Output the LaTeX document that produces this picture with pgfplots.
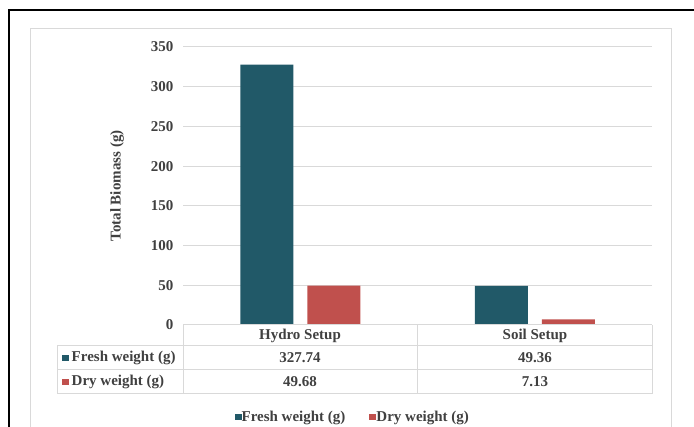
\documentclass[border=0pt]{standalone}
\usepackage{pgfplots}
\pgfplotsset{compat=1.18}
\usepackage{fontspec}
\setmainfont{Liberation Serif}

\definecolor{freshc}{HTML}{215968}
\definecolor{dryc}{HTML}{C0504D}
\definecolor{gridc}{HTML}{D9D9D9}
\definecolor{txtc}{HTML}{404040}

\newcommand{\keyfresh}{\textcolor{freshc}{\rule[0.5pt]{7pt}{6.5pt}}}
\newcommand{\keydry}{\textcolor{dryc}{\rule[0.5pt]{7pt}{6.5pt}}}

\begin{document}
\begin{tikzpicture}[font=\fontsize{15}{18}\selectfont\bfseries, every node/.style={text=txtc}]
\useasboundingbox (0,0) rectangle (694pt,427pt);

% outer frame and chart area
\draw[black, line width=1.6pt] (9pt,0) -- (9pt,417pt) -- (694pt,417pt);
\draw[gridc, line width=1pt] (30pt,0) -- (30pt,398pt) -- (671pt,398pt) -- (671pt,0);

\begin{axis}[
  at={(183pt,102pt)}, anchor=south west,
  scale only axis, width=469pt, height=278pt,
  xmin=-0.5, xmax=1.5, ymin=0, ymax=350,
  ytick={0,50,...,350}, xtick=\empty,
  major tick length=0pt,
  axis line style={draw=none},
  ymajorgrids, grid style={gridc, line width=1pt},
  /pgf/number format/assume math mode=true,
  yticklabel style={font=\fontsize{15}{18}\selectfont\bfseries, text=txtc, xshift=-6pt},
  ylabel={Total Biomass (g)},
  ylabel style={at={(axis description cs:-0.1407,0.5)}, anchor=center, font=\fontsize{15}{18}\selectfont\bfseries, text=txtc},
  ybar=14pt, bar width=53pt,
  legend columns=2,
  legend style={draw=none, fill=none, at={(axis description cs:0.362,-0.331)}, anchor=center,
    font=\fontsize{15}{18}\selectfont\bfseries, text=txtc,
    /tikz/every even column/.append style={column sep=22pt},
    /tikz/every odd column/.append style={column sep=-2pt}},
  legend image code/.code={\fill[#1] (0pt,-3pt) rectangle (7pt,3.5pt);},
]
\addplot[fill=freshc, draw=none] coordinates {(0,327.74) (1,49.36)};
\addplot[fill=dryc, draw=none] coordinates {(0,49.68) (1,7.13)};
\legend{Fresh weight (g), Dry weight (g)}
\end{axis}

% data table under the plot
\draw[gridc, line width=1pt]
  (183pt,102pt) -- (652pt,102pt)
  (57pt,81pt) -- (652pt,81pt)
  (57pt,57pt) -- (652pt,57pt)
  (57pt,33pt) -- (652pt,33pt)
  (57pt,33pt) -- (57pt,81pt)
  (183pt,33pt) -- (183pt,102pt)
  (417.5pt,33pt) -- (417.5pt,102pt)
  (652pt,33pt) -- (652pt,102pt);

\node at (300pt,91.5pt) {Hydro Setup};
\node at (535pt,91.5pt) {Soil Setup};
\node[anchor=west, inner sep=0pt] at (62pt,69pt) {\keyfresh\,Fresh weight (g)};
\node[anchor=west, inner sep=0pt] at (62pt,45pt) {\keydry\,Dry weight (g)};
\node at (300pt,69pt) {327.74};
\node at (535pt,69pt) {49.36};
\node at (300pt,45pt) {49.68};
\node at (535pt,45pt) {7.13};
\end{tikzpicture}
\end{document}
